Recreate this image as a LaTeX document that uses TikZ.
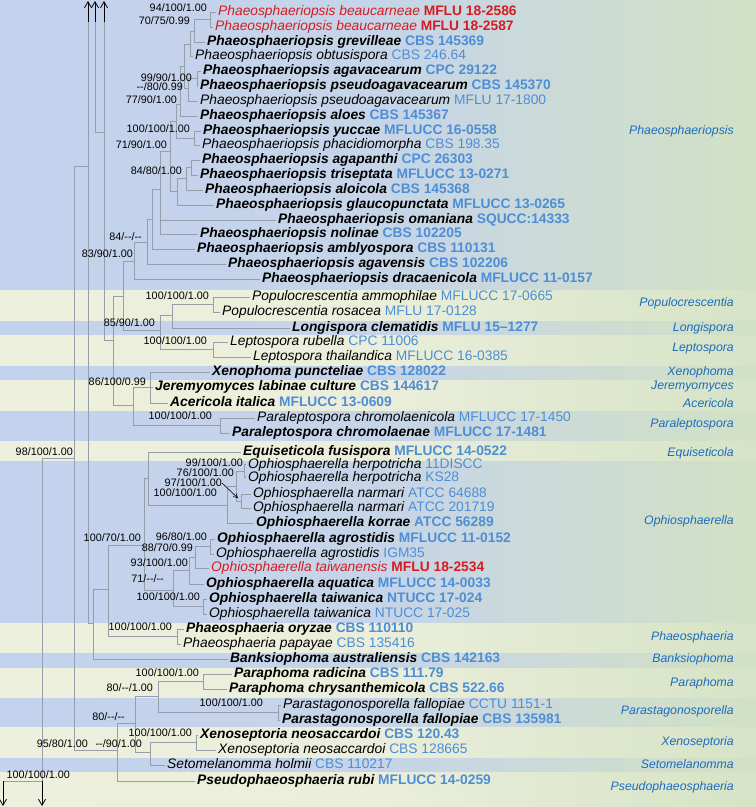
\documentclass[tikz,border=0pt]{standalone}
\usepackage{fontspec}
\setmainfont{Liberation Sans}
\usepackage{xcolor}
\usetikzlibrary{arrows.meta}
\definecolor{strainblue}{RGB}{78,142,214}
\definecolor{newred}{RGB}{214,28,34}
\definecolor{genusblue}{RGB}{28,108,190}
\definecolor{branchgray}{RGB}{150,158,172}
\definecolor{bandblue}{RGB}{195,210,238}
\definecolor{bandgreen}{RGB}{210,225,196}
\definecolor{bandcream}{RGB}{238,240,222}
\definecolor{creamgreen}{RGB}{214,227,198}
\newcommand{\strain}[1]{{\upshape\color{strainblue}#1}}
\newcommand{\newstrain}[1]{{\upshape\bfseries #1}}
\newcommand{\nd}{-{}-}

\begin{document}
\begin{tikzpicture}[x=1pt, y=-1pt,
  branch/.style={draw=branchgray, line width=0.8pt},
  cutarr/.style={-{Straight Barb[length=6pt,width=7pt]}, line width=0.8pt, black},
  supparr/.style={-{Straight Barb[length=4pt,width=4pt]}, line width=0.6pt, black, shorten >=4pt},
  supp/.style={anchor=east, inner sep=0pt, text height=7.8pt, text depth=0.4pt, font=\fontsize{10.8}{12}\selectfont},
  taxon/.style={anchor=west, inner xsep=2pt, inner ysep=0pt, text height=9.6pt, text depth=2.6pt, font=\fontsize{13.8}{15}\selectfont\itshape},
  typetx/.style={taxon, font=\fontsize{13.8}{15}\selectfont\bfseries\itshape},
  newtx/.style={taxon, text=newred},
  genus/.style={anchor=east, inner sep=0pt, text=genusblue, font=\fontsize{12.3}{14}\selectfont\itshape},
  blueband/.style={left color=bandblue, right color=bandgreen, middle color=bandblue!85!bandgreen},
  creamband/.style={left color=bandcream, right color=creamgreen, middle color=bandcream!85!creamgreen}]
  \useasboundingbox (0,0) rectangle (756,807);
  % background bands, one per genus
  \foreach \ya/\yb in {0/290, 320/335, 365/380, 410/441, 460/623, 652/668, 697/727, 757/772}
    \shade[blueband] (0,\ya) rectangle (756,\yb);
  \foreach \ya/\yb in {290/320, 335/365, 380/410, 441/460, 623/652, 668/697, 727/757, 772/807}
    \shade[creamband] (0,\ya) rectangle (756,\yb);

  % taxa: Phaeosphaeriopsis
  \node[newtx] (beauA) at (216,12) {Phaeosphaeriopsis beaucarneae \newstrain{MFLU 18-2586}};
  \node[newtx] (beauB) at (213,27) {Phaeosphaeriopsis beaucarneae \newstrain{MFLU 18-2587}};
  \node[typetx] (grev) at (205,42) {Phaeosphaeriopsis grevilleae \strain{CBS 145369}};
  \node[taxon] (obtus) at (193,56) {Phaeosphaeriopsis obtusispora \strain{CBS 246.64}};
  \node[typetx] (agav) at (201,71) {Phaeosphaeriopsis agavacearum \strain{CPC 29122}};
  \node[typetx] (pseuA) at (198,86) {Phaeosphaeriopsis pseudoagavacearum \strain{CBS 145370}};
  \node[taxon] (pseuB) at (198,101) {Phaeosphaeriopsis pseudoagavacearum \strain{MFLU 17-1800}};
  \node[typetx] (aloes) at (198,116) {Phaeosphaeriopsis aloes \strain{CBS 145367}};
  \node[typetx] (yucc) at (201,131) {Phaeosphaeriopsis yuccae \strain{MFLUCC 16-0558}};
  \node[taxon] (phac) at (200,145) {Phaeosphaeriopsis phacidiomorpha \strain{CBS 198.35}};
  \node[typetx] (agap) at (200,160) {Phaeosphaeriopsis agapanthi \strain{CPC 26303}};
  \node[typetx] (tris) at (198,175) {Phaeosphaeriopsis triseptata \strain{MFLUCC 13-0271}};
  \node[typetx] (aloic) at (203,190) {Phaeosphaeriopsis aloicola \strain{CBS 145368}};
  \node[typetx] (glau) at (214,205) {Phaeosphaeriopsis glaucopunctata \strain{MFLUCC 13-0265}};
  \node[typetx] (oman) at (276,220) {Phaeosphaeriopsis omaniana \strain{SQUCC:14333}};
  \node[typetx] (noli) at (198,234) {Phaeosphaeriopsis nolinae \strain{CBS 102205}};
  \node[typetx] (ambl) at (195,249) {Phaeosphaeriopsis amblyospora \strain{CBS 110131}};
  \node[typetx] (agavens) at (226,264) {Phaeosphaeriopsis agavensis \strain{CBS 102206}};
  \node[typetx] (drac) at (260,279) {Phaeosphaeriopsis dracaenicola \strain{MFLUCC 11-0157}};
  % taxa: Populocrescentia to Equiseticola
  \node[taxon] (ammo) at (250,297) {Populocrescentia ammophilae \strain{MFLUCC 17-0665}};
  \node[taxon] (rosa) at (220,312) {Populocrescentia rosacea \strain{MFLU 17-0128}};
  \node[typetx] (longi) at (290,328) {Longispora clematidis \strain{MFLU 15--1277}};
  \node[taxon] (rube) at (228,342) {Leptospora rubella \strain{CPC 11006}};
  \node[taxon] (thai) at (251,357) {Leptospora thailandica \strain{MFLUCC 16-0385}};
  \node[typetx] (xeno) at (210,372) {Xenophoma puncteliae \strain{CBS 128022}};
  \node[typetx] (jere) at (153,387) {Jeremyomyces labinae culture \strain{CBS 144617}};
  \node[typetx] (acer) at (168,403) {Acericola italica \strain{MFLUCC 13-0609}};
  \node[taxon] (chrA) at (255,418) {Paraleptospora chromolaenicola \strain{MFLUCC 17-1450}};
  \node[typetx] (chrB) at (230,433) {Paraleptospora chromolaenae \strain{MFLUCC 17-1481}};
  \node[typetx] (equi) at (241,452) {Equiseticola fusispora \strain{MFLUCC 14-0522}};
  % taxa: Ophiosphaerella
  \node[taxon] (herA) at (246,464.5) {Ophiosphaerella herpotricha \strain{11DISCC}};
  \node[taxon] (herB) at (246,477.5) {Ophiosphaerella herpotricha \strain{KS28}};
  \node[taxon] (narA) at (251,494) {Ophiosphaerella narmari \strain{ATCC 64688}};
  \node[taxon] (narB) at (251,508) {Ophiosphaerella narmari \strain{ATCC 201719}};
  \node[typetx] (korr) at (254,523) {Ophiosphaerella korrae \strain{ATCC 56289}};
  \node[typetx] (agrA) at (215,539) {Ophiosphaerella agrostidis \strain{MFLUCC 11-0152}};
  \node[taxon] (agrB) at (214,554) {Ophiosphaerella agrostidis \strain{IGM35}};
  \node[newtx] (taiw) at (209,568) {Ophiosphaerella taiwanensis \newstrain{MFLU 18-2534}};
  \node[typetx] (aqua) at (204,584) {Ophiosphaerella aquatica \strain{MFLUCC 14-0033}};
  \node[typetx] (tanA) at (207,599) {Ophiosphaerella taiwanica \strain{NTUCC 17-024}};
  \node[taxon] (tanB) at (207,614) {Ophiosphaerella taiwanica \strain{NTUCC 17-025}};
  % taxa: Phaeosphaeria to Pseudophaeosphaeria
  \node[typetx] (oryz) at (184,629) {Phaeosphaeria oryzae \strain{CBS 110110}};
  \node[taxon] (papa) at (181,644) {Phaeosphaeria papayae \strain{CBS 135416}};
  \node[typetx] (bank) at (228,659) {Banksiophoma australiensis \strain{CBS 142163}};
  \node[typetx] (radi) at (232,674) {Paraphoma radicina \strain{CBS 111.79}};
  \node[typetx] (chry) at (227,689) {Paraphoma chrysanthemicola \strain{CBS 522.66}};
  \node[taxon] (fallA) at (281,705) {Parastagonosporella fallopiae \strain{CCTU 1151-1}};
  \node[typetx] (fallB) at (280,720) {Parastagonosporella fallopiae \strain{CBS 135981}};
  \node[typetx] (xenA) at (198,735) {Xenoseptoria neosaccardoi \strain{CBS 120.43}};
  \node[taxon] (xenB) at (216,750) {Xenoseptoria neosaccardoi \strain{CBS 128665}};
  \node[taxon] (seto) at (165,765) {Setomelanomma holmii \strain{CBS 110217}};
  \node[typetx] (rubi) at (195,781) {Pseudophaeosphaeria rubi \strain{MFLUCC 14-0259}};

  % internal nodes
  \coordinate (pA) at (210,19.5); \coordinate (pB) at (194,31); \coordinate (pC) at (190,44);
  \coordinate (pD) at (197,78); \coordinate (pE) at (188,88); \coordinate (pF) at (184,66);
  \coordinate (pG) at (180,104); \coordinate (pH) at (194,138); \coordinate (pK) at (176,121);
  \coordinate (pM) at (191,167); \coordinate (pN) at (186,178); \coordinate (pL) at (177,191);
  \coordinate (pI) at (170,151); \coordinate (pP) at (160,189); \coordinate (pQ) at (152,219);
  \coordinate (pR) at (147,242); \coordinate (pS) at (134,261);
  \coordinate (q1) at (213,304); \coordinate (q2) at (172,315); \coordinate (q3) at (213,349);
  \coordinate (q4) at (160,330); \coordinate (n123) at (123,296);
  \coordinate (x1) at (150,387); \coordinate (x2) at (220,425); \coordinate (x3) at (133,405);
  \coordinate (n113) at (113,340); \coordinate (n104) at (104,132);
  \coordinate (h1) at (244,471); \coordinate (nm1) at (241,501); \coordinate (o2) at (236,486);
  \coordinate (o1) at (227,505); \coordinate (e1) at (148,478);
  \coordinate (g1) at (210,546); \coordinate (g2) at (195,557); \coordinate (g3) at (189,570);
  \coordinate (t1) at (203,606); \coordinate (g4) at (173,590); \coordinate (o3) at (144,545);
  \coordinate (ph1) at (177,636); \coordinate (n108) at (108,589); \coordinate (n93) at (93,623);
  \coordinate (n88) at (88,166);
  \coordinate (pp1) at (203,681); \coordinate (ps1) at (278,712); \coordinate (pp2) at (158,696);
  \coordinate (xs1) at (196,742); \coordinate (xs2) at (150,752); \coordinate (pp3) at (135,723);
  \coordinate (pp4) at (117,750); \coordinate (n74) at (74,458);
  \coordinate (n42) at (42,781); \coordinate (n3) at (3,781);
  % cut branch ends
  \coordinate (cut88) at (88,22); \coordinate (top88) at (88,1);
  \coordinate (cut95) at (95,22); \coordinate (top95) at (95,1);
  \coordinate (cut104) at (104,22); \coordinate (top104) at (104,1);
  \coordinate (bot42) at (42,806); \coordinate (bot3) at (3,806);

  % branches
  \draw[branch] (pA) |- (beauA.west) (pA) |- (beauB.west);
  \draw[branch] (pB) |- (pA) (pB) |- (grev.west);
  \draw[branch] (pC) |- (pB) (pC) |- (obtus.west);
  \draw[branch] (pD) |- (agav.west) (pD) |- (pseuA.west);
  \draw[branch] (pE) |- (pD) (pE) |- (pseuB.west);
  \draw[branch] (pF) |- (pC) (pF) |- (pE);
  \draw[branch] (pG) |- (pF) (pG) |- (aloes.west);
  \draw[branch] (pH) |- (yucc.west) (pH) |- (phac.west);
  \draw[branch] (pK) |- (pG) (pK) |- (pH);
  \draw[branch] (pM) |- (agap.west) (pM) |- (tris.west);
  \draw[branch] (pN) |- (pM) (pN) |- (aloic.west);
  \draw[branch] (pL) |- (pN) (pL) |- (glau.west);
  \draw[branch] (pI) |- (pK) (pI) |- (pL);
  \draw[branch] (pP) |- (pI) (pP) |- (oman.west) (pP) |- (noli.west);
  \draw[branch] (pQ) |- (pP) (pQ) |- (ambl.west);
  \draw[branch] (pR) |- (pQ) (pR) |- (agavens.west);
  \draw[branch] (pS) |- (pR) (pS) |- (drac.west);
  \draw[branch] (q1) |- (ammo.west) (q1) |- (rosa.west);
  \draw[branch] (q2) |- (q1) (q2) |- (longi.west);
  \draw[branch] (q3) |- (rube.west) (q3) |- (thai.west);
  \draw[branch] (q4) |- (q2) (q4) |- (q3);
  \draw[branch] (n123) |- (pS) (n123) |- (q4);
  \draw[branch] (x1) |- (xeno.west) (x1) -- (jere.west) (x1) |- (acer.west);
  \draw[branch] (x2) |- (chrA.west) (x2) |- (chrB.west);
  \draw[branch] (x3) |- (x1) (x3) |- (x2);
  \draw[branch] (n113) |- (n123) (n113) |- (x3);
  \draw[branch] (n104) |- (n113) (n104) -- (cut104);
  \draw[branch] (cut95) |- (n104);
  \draw[branch] (h1) |- (herA.west) (h1) |- (herB.west);
  \draw[branch] (nm1) |- (narA.west) (nm1) |- (narB.west);
  \draw[branch] (o2) |- (h1) (o2) |- (nm1);
  \draw[branch] (o1) |- (o2) (o1) |- (korr.west);
  \draw[branch] (e1) |- (equi.west) (e1) |- (o1);
  \draw[branch] (g1) |- (agrA.west) (g1) |- (agrB.west);
  \draw[branch] (g2) |- (g1) (g2) |- (taiw.west);
  \draw[branch] (g3) |- (g2) (g3) |- (aqua.west);
  \draw[branch] (t1) |- (tanA.west) (t1) |- (tanB.west);
  \draw[branch] (g4) |- (g3) (g4) |- (t1);
  \draw[branch] (o3) |- (e1) (o3) |- (g4);
  \draw[branch] (ph1) |- (oryz.west) (ph1) |- (papa.west);
  \draw[branch] (n108) |- (o3) (n108) |- (ph1);
  \draw[branch] (n93) |- (n108) (n93) |- (bank.west);
  \draw[branch] (n88) |- (n93) (n88) -- (cut88);
  \draw[branch] (pp1) |- (radi.west) (pp1) |- (chry.west);
  \draw[branch] (ps1) |- (fallA.west) (ps1) |- (fallB.west);
  \draw[branch] (pp2) |- (pp1) (pp2) |- (ps1);
  \draw[branch] (xs1) |- (xenA.west) (xs1) |- (xenB.west);
  \draw[branch] (xs2) |- (xs1) (xs2) |- (seto.west);
  \draw[branch] (pp3) |- (pp2) (pp3) |- (xs2);
  \draw[branch] (pp4) |- (pp3) (pp4) |- (rubi.west);
  \draw[branch] (n74) |- (n88) (n74) |- (pp4);
  \draw[branch] (n42) |- (n74) (n3) -- (n42);
  % branches cut at the page edges
  \draw[cutarr] (cut88) -- (top88);
  \draw[cutarr] (cut95) -- (top95);
  \draw[cutarr] (cut104) -- (top104);
  \draw[cutarr] (n42) -- (bot42);
  \draw[cutarr] (n3) -- (bot3);

  % support values ML/MP/PP
  \node[supp] (s1) at (207,8) {94/100/1.00};
  \node[supp] (s2) at (190,21) {70/75/0.99};
  \node[supp] (s3) at (192,77.5) {99/90/1.00};
  \node[supp] (s4) at (183,87) {\nd/80/0.99};
  \node[supp] (s5) at (177,99.5) {77/90/1.00};
  \node[supp] (s6) at (190,129) {100/100/1.00};
  \node[supp] (s7) at (167,145) {71/90/1.00};
  \node[supp] (s8) at (182,171) {84/80/1.00};
  \node[supp] (s9) at (142,237) {84/\nd/\nd};
  \node[supp] (s10) at (133,254) {83/90/1.00};
  \node[supp] (s11) at (209,296) {100/100/1.00};
  \node[supp] (s12) at (155,323) {85/90/1.00};
  \node[supp] (s13) at (207,341) {100/100/1.00};
  \node[supp] (s14) at (146,382) {86/100/0.99};
  \node[supp] (s15) at (212,416) {100/100/1.00};
  \node[supp] (s16) at (73,452) {98/100/1.00};
  \node[supp] (s17) at (243,463) {99/100/1.00};
  \node[supp] (s18) at (234,473) {76/100/1.00};
  \node[supp] (s19) at (222,483) {97/100/1.00};
  \node[supp] (s20) at (217,493) {100/100/1.00};
  \node[supp] (s21) at (141,538) {100/70/1.00};
  \node[supp] (s22) at (207,537) {96/80/1.00};
  \node[supp] (s23) at (193,548) {88/70/0.99};
  \node[supp] (s24) at (188,563) {93/100/1.00};
  \node[supp] (s25) at (164,579) {71/\nd/\nd};
  \node[supp] (s26) at (200,597) {100/100/1.00};
  \node[supp] (s27) at (172,627) {100/100/1.00};
  \node[supp] (s28) at (199,673) {100/100/1.00};
  \node[supp] (s29) at (153,688) {80/\nd/1.00};
  \node[supp] (s30) at (263,703) {100/100/1.00};
  \node[supp] (s31) at (125,717) {80/\nd/\nd};
  \node[supp] (s32) at (192,733) {100/100/1.00};
  \node[supp] (s33) at (88,744) {95/80/1.00};
  \node[supp] (s34) at (142,744) {\nd/90/1.00};
  \node[supp] (s35) at (70,775) {100/100/1.00};
  \draw[supparr] (s19.east) -- (nm1);

  % genus labels
  \node[genus] (gPhs) at (734,131) {Phaeosphaeriopsis};
  \node[genus] (gPop) at (734,303) {Populocrescentia};
  \node[genus] (gLon) at (734,328) {Longispora};
  \node[genus] (gLep) at (734,349) {Leptospora};
  \node[genus] (gXph) at (734,372) {Xenophoma};
  \node[genus] (gJer) at (734,387) {Jeremyomyces};
  \node[genus] (gAce) at (734,403) {Acericola};
  \node[genus] (gPlp) at (734,424) {Paraleptospora};
  \node[genus] (gEqu) at (734,453) {Equiseticola};
  \node[genus] (gOph) at (734,521) {Ophiosphaerella};
  \node[genus] (gPha) at (734,637) {Phaeosphaeria};
  \node[genus] (gBan) at (734,659) {Banksiophoma};
  \node[genus] (gPph) at (734,683) {Paraphoma};
  \node[genus] (gPst) at (734,711) {Parastagonosporella};
  \node[genus] (gXsp) at (734,742) {Xenoseptoria};
  \node[genus] (gSet) at (734,764) {Setomelanomma};
  \node[genus] (gPsd) at (734,787) {Pseudophaeosphaeria};
\end{tikzpicture}
\end{document}
